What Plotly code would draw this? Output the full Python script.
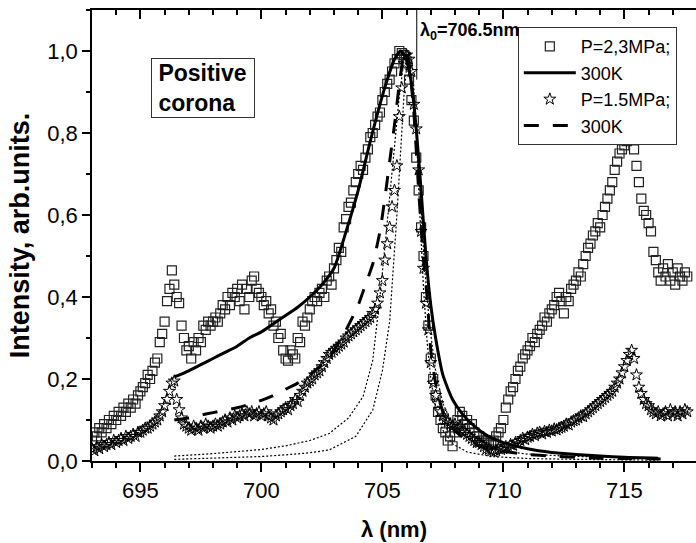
import numpy as np
import plotly.graph_objects as go

# ---------------- data ----------------
wl_start = 693.0
wl_step = 0.1

# P = 2.3 MPa, measured spectrum (open squares)
sq_I = [
    0.05, 0.07, 0.06, 0.08, 0.07, 0.09, 0.08, 0.10, 0.09, 0.11,
    0.10, 0.12, 0.11, 0.13, 0.12, 0.14, 0.13, 0.15, 0.14, 0.16,
    0.17, 0.18, 0.19, 0.21, 0.20, 0.22, 0.24, 0.25, 0.29, 0.31,
    0.34, 0.39, 0.42, 0.465, 0.43, 0.40, 0.385, 0.33, 0.30, 0.27,
    0.28, 0.25, 0.29, 0.27, 0.30, 0.29, 0.33, 0.32, 0.34, 0.33,
    0.34, 0.35, 0.34, 0.36, 0.38, 0.37, 0.40, 0.38, 0.41, 0.40,
    0.42, 0.39, 0.43, 0.37, 0.42, 0.40, 0.44, 0.45, 0.42, 0.41,
    0.40, 0.38, 0.39, 0.36, 0.37, 0.33, 0.34, 0.30, 0.31, 0.27,
    0.25, 0.245, 0.27, 0.26, 0.25, 0.30, 0.29, 0.34, 0.33, 0.35,
    0.37, 0.39, 0.40, 0.39, 0.41, 0.42, 0.40, 0.44, 0.45, 0.43,
    0.47, 0.49, 0.52, 0.51, 0.57, 0.59, 0.62, 0.63, 0.66, 0.68,
    0.70, 0.72, 0.71, 0.74, 0.76, 0.79, 0.80, 0.82, 0.84, 0.85,
    0.88, 0.90, 0.92, 0.93, 0.95, 0.97, 0.98, 1.00, 0.995, 0.99,
    0.97, 0.93, 0.88, 0.83, 0.74, 0.66, 0.57, 0.50, 0.40, 0.33,
    0.25, 0.20, 0.16, 0.12, 0.10, 0.08, 0.07, 0.05, 0.06, 0.036,
    0.07, 0.10, 0.12, 0.11, 0.09, 0.10, 0.08, 0.09, 0.07, 0.06,
    0.06, 0.05, 0.045, 0.05, 0.04, 0.045, 0.05, 0.06, 0.07, 0.08,
    0.10, 0.13, 0.15, 0.17, 0.18, 0.20, 0.22, 0.23, 0.25, 0.26,
    0.27, 0.28, 0.30, 0.29, 0.31, 0.32, 0.33, 0.35, 0.34, 0.36,
    0.37, 0.38, 0.40, 0.41, 0.39, 0.36, 0.40, 0.39, 0.42, 0.43,
    0.44, 0.46, 0.45, 0.48, 0.50, 0.52, 0.53, 0.55, 0.56, 0.58,
    0.57, 0.60, 0.62, 0.64, 0.66, 0.68, 0.71, 0.73, 0.75, 0.76,
    0.77, 0.78, 0.79, 0.80, 0.76, 0.72, 0.68, 0.64, 0.61, 0.60,
    0.58, 0.56, 0.51, 0.49, 0.46, 0.44, 0.47, 0.45, 0.48, 0.44,
    0.46, 0.43, 0.47, 0.45, 0.44, 0.46, 0.45,
]

# P = 1.5 MPa, measured spectrum (open stars)
st_I = [
    0.03, 0.025, 0.035, 0.03, 0.04, 0.035, 0.04, 0.045, 0.04, 0.05,
    0.045, 0.05, 0.055, 0.05, 0.06, 0.055, 0.06, 0.065, 0.06, 0.07,
    0.07, 0.075, 0.08, 0.08, 0.085, 0.09, 0.095, 0.10, 0.11, 0.12,
    0.135, 0.15, 0.17, 0.19, 0.195, 0.15, 0.125, 0.105, 0.09, 0.085,
    0.08, 0.075, 0.085, 0.08, 0.075, 0.085, 0.08, 0.09, 0.085, 0.08,
    0.085, 0.09, 0.085, 0.09, 0.095, 0.10, 0.095, 0.105, 0.10, 0.11,
    0.105, 0.11, 0.115, 0.11, 0.12, 0.115, 0.12, 0.11, 0.115, 0.12,
    0.11, 0.115, 0.12, 0.11, 0.105, 0.10, 0.11, 0.115, 0.12, 0.125,
    0.13, 0.125, 0.135, 0.14, 0.15, 0.145, 0.16, 0.17, 0.18, 0.19,
    0.195, 0.20, 0.21, 0.215, 0.22, 0.23, 0.24, 0.25, 0.26, 0.265,
    0.27, 0.275, 0.28, 0.285, 0.29, 0.30, 0.305, 0.31, 0.315, 0.32,
    0.325, 0.33, 0.335, 0.34, 0.345, 0.35, 0.36, 0.37, 0.385, 0.41,
    0.44, 0.49, 0.53, 0.57, 0.62, 0.66, 0.72, 0.84, 0.91, 0.97,
    0.99, 0.98, 0.95, 0.87, 0.81, 0.71, 0.56, 0.47, 0.385, 0.32,
    0.24, 0.19, 0.16, 0.14, 0.12, 0.11, 0.10, 0.095, 0.09, 0.085,
    0.09, 0.08, 0.085, 0.075, 0.07, 0.065, 0.06, 0.055, 0.05, 0.045,
    0.045, 0.04, 0.035, 0.03, 0.028, 0.025, 0.022, 0.025, 0.03, 0.028,
    0.03, 0.035, 0.032, 0.04, 0.038, 0.045, 0.042, 0.05, 0.055, 0.052,
    0.058, 0.06, 0.065, 0.062, 0.068, 0.07, 0.066, 0.072, 0.07, 0.075,
    0.073, 0.078, 0.076, 0.08, 0.082, 0.085, 0.09, 0.088, 0.095, 0.098,
    0.10, 0.105, 0.11, 0.108, 0.115, 0.12, 0.125, 0.13, 0.135, 0.14,
    0.145, 0.15, 0.155, 0.16, 0.165, 0.17, 0.18, 0.19, 0.20, 0.215,
    0.23, 0.245, 0.26, 0.27, 0.25, 0.21, 0.18, 0.165, 0.15, 0.14,
    0.135, 0.125, 0.12, 0.115, 0.12, 0.11, 0.115, 0.12, 0.11, 0.125,
    0.115, 0.12, 0.11, 0.12, 0.115, 0.125, 0.12,
]

# 300 K model curve for P = 2.3 MPa (solid)
fit23_x = [696.4, 697.0, 697.5, 698.0, 698.5, 699.0, 699.5, 700.0, 700.5, 701.0,
           701.5, 702.0, 702.5, 703.0, 703.5, 704.0, 704.5, 704.9, 705.2, 705.5,
           705.75, 706.0, 706.2, 706.4, 706.6, 706.8, 707.0, 707.2, 707.5, 707.9,
           708.3, 708.8, 709.3, 710.0, 711.0, 712.0, 713.0, 714.0, 715.0, 716.4]
fit23_y = [0.205, 0.22, 0.235, 0.25, 0.265, 0.28, 0.30, 0.315, 0.335, 0.355,
           0.375, 0.40, 0.43, 0.47, 0.56, 0.66, 0.78, 0.87, 0.93, 0.98,
           1.00, 0.98, 0.92, 0.81, 0.66, 0.50, 0.38, 0.30, 0.21, 0.15,
           0.115, 0.085, 0.063, 0.045, 0.03, 0.021, 0.016, 0.012, 0.009, 0.007]

# 300 K model curve for P = 1.5 MPa (dashed)
fit15_x = [696.4, 697.0, 697.5, 698.0, 698.5, 699.0, 699.5, 700.0, 700.5, 701.0,
           701.5, 702.0, 702.5, 703.0, 703.5, 704.0, 704.3, 704.6, 704.9, 705.1,
           705.3, 705.5, 705.7, 705.85, 705.95, 706.1, 706.3, 706.5, 706.7, 706.85,
           707.0, 707.2, 707.5, 707.9, 708.5, 709.0, 710.0, 711.0, 712.0, 713.0,
           714.0, 715.0, 716.5]
fit15_y = [0.10, 0.105, 0.112, 0.118, 0.124, 0.13, 0.138, 0.148, 0.16, 0.175,
           0.19, 0.21, 0.235, 0.27, 0.32, 0.38, 0.43, 0.48, 0.56, 0.64,
           0.73, 0.82, 0.92, 0.98, 1.00, 0.97, 0.85, 0.66, 0.49, 0.40,
           0.27, 0.19, 0.12, 0.08, 0.05, 0.037, 0.024, 0.016, 0.012, 0.009,
           0.007, 0.006, 0.005]

# thin dotted reference profiles
dotA_x = [696.4, 698.0, 700.0, 701.0, 702.0, 702.8, 703.6, 704.2, 704.6, 704.9,
          705.1, 705.3, 705.5, 705.7, 705.9, 706.0, 706.15, 706.35, 706.55, 706.75,
          706.95, 707.2, 707.5, 707.9, 708.5, 709.2, 710.0, 711.0, 712.5, 714.5, 716.4]
dotA_y = [0.012, 0.018, 0.028, 0.037, 0.05, 0.067, 0.105, 0.157, 0.245, 0.40,
          0.52, 0.64, 0.77, 0.89, 0.98, 1.00, 0.97, 0.85, 0.66, 0.47,
          0.33, 0.22, 0.14, 0.09, 0.055, 0.035, 0.024, 0.017, 0.012, 0.008, 0.006]
dotB_x = [696.4, 698.0, 700.0, 701.0, 702.0, 702.8, 703.9, 704.6, 705.0, 705.3,
          705.45, 705.6, 705.75, 705.9, 706.05, 706.15, 706.25, 706.4, 706.55, 706.7,
          706.85, 707.0, 707.2, 707.5, 707.9, 708.5, 709.5, 711.0, 713.0, 716.4]
dotB_y = [0.004, 0.007, 0.011, 0.015, 0.02, 0.027, 0.06, 0.124, 0.22, 0.34,
          0.466, 0.60, 0.75, 0.90, 0.99, 1.00, 0.96, 0.80, 0.60, 0.42,
          0.29, 0.20, 0.13, 0.075, 0.042, 0.022, 0.011, 0.006, 0.004, 0.002]

lambda0_x = [706.42, 706.42]
lambda0_y = [1.1, 0.93]

x_range = [693.0, 717.96]
y_range = [0.0, 1.1]

legend_names = ["P=2,3MPa;", "300K", "P=1.5MPa;", "300K"]

# ---------------- figure ----------------
FONT = "Liberation Sans, Arial, sans-serif"
wl = np.round(wl_start + wl_step * np.arange(len(sq_I)), 2)
wl_st = np.round(wl_start + wl_step * np.arange(len(st_I)), 2)

fig = go.Figure()

for xs, ys in [(dotA_x, dotA_y), (dotB_x, dotB_y)]:
    fig.add_trace(go.Scatter(x=xs, y=ys, mode="lines", showlegend=False,
                             line=dict(color="black", width=1.2, dash="2px,2px"),
                             hoverinfo="skip"))

fig.add_trace(go.Scatter(x=lambda0_x, y=lambda0_y, mode="lines", showlegend=False,
                         xaxis="x2", line=dict(color="black", width=1), hoverinfo="skip"))

fig.add_trace(go.Scatter(x=wl, y=sq_I, mode="markers", name=legend_names[0], legendrank=1,
                         marker=dict(symbol="square-open", size=9, color="#222",
                                     line=dict(width=1.2, color="#222"))))
fig.add_trace(go.Scatter(x=wl_st, y=st_I, mode="markers", name=legend_names[2], legendrank=3,
                         marker=dict(symbol="star-open", size=9, color="black",
                                     line=dict(width=1, color="black"))))
fig.add_trace(go.Scatter(x=fit23_x, y=fit23_y, mode="lines", name=legend_names[1], legendrank=2,
                         line=dict(color="black", width=3, shape="spline", smoothing=0.6)))
fig.add_trace(go.Scatter(x=fit15_x, y=fit15_y, mode="lines", name=legend_names[3], legendrank=4,
                         line=dict(color="black", width=3, dash="15px,14px",
                                   shape="spline", smoothing=0.6)))

axis_common = dict(showgrid=False, zeroline=False, showline=True, linecolor="black",
                   linewidth=1.5, tickcolor="black", tickwidth=1.5,
                   tickfont=dict(family=FONT, size=22, color="black"))

fig.update_layout(
    width=696, height=543,
    margin=dict(l=92, r=0, t=10, b=82),
    plot_bgcolor="white", paper_bgcolor="white",
    separators=", ",
    font=dict(family=FONT, color="black"),
    xaxis=dict(range=x_range, tick0=695, dtick=5, ticks="outside", ticklen=9,
               minor=dict(dtick=1, ticks="outside", ticklen=5, tickcolor="black", tickwidth=1.5),
               title=dict(text="<b>λ (nm)</b>", font=dict(family=FONT, size=22), standoff=19),
               **axis_common),
    xaxis2=dict(range=x_range, overlaying="x", side="top", anchor="y", tick0=695, dtick=5,
                ticks="inside", ticklen=9, showticklabels=False,
                minor=dict(dtick=1, ticks="inside", ticklen=5, tickcolor="black", tickwidth=1.5),
                **axis_common),
    yaxis=dict(range=y_range, dtick=0.2, tickformat=".1f", ticks="outside", ticklen=8,
               minor=dict(dtick=0.1, ticks="outside", ticklen=4, tickcolor="black", tickwidth=1.5),
               title=dict(text="<b>Intensity, arb.units.</b>", font=dict(family=FONT, size=27),
                          standoff=10),
               **axis_common),
    legend=dict(x=0.705, y=0.962, xanchor="left", yanchor="top",
                bgcolor="white", bordercolor="#333", borderwidth=1,
                font=dict(family=FONT, size=18, color="black"),
                itemwidth=52, tracegroupgap=0),
    annotations=[
        dict(text="<b>\u00a0Positive<br>\u00a0corona</b>", xref="paper", yref="paper",
             x=0.1838, y=0.828, xanchor="center", yanchor="middle", showarrow=False,
             align="left", width=102, height=58, borderpad=0,
             bordercolor="#333", borderwidth=1, bgcolor="white",
             font=dict(family=FONT, size=23, color="black")),
        dict(text="<b>λ<sub>0</sub>=706.5nm</b>", xref="paper", yref="paper",
             x=0.5397, y=0.953, xanchor="left", yanchor="middle", showarrow=False,
             font=dict(family=FONT, size=18, color="black")),
    ],
)

fig.write_html("out.html")
